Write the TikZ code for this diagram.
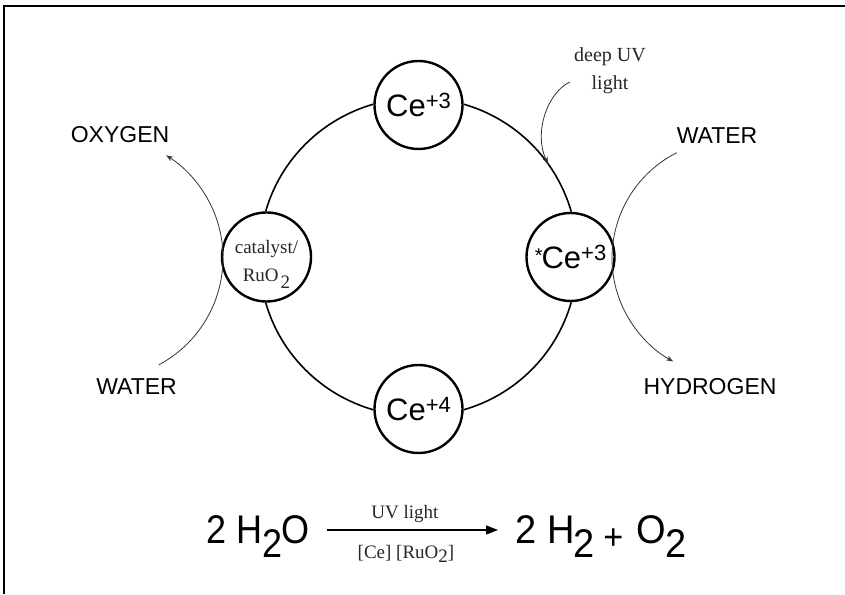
\documentclass[tikz,border=0pt]{standalone}
\usepackage{fontspec}
\setmainfont{Liberation Serif}
\setsansfont{Liberation Sans}
\usetikzlibrary{arrows.meta}
\newcommand\ionsup[1]{\raisebox{8pt}{\fontsize{22}{22}\selectfont #1}}
\newcommand\bigsub[1]{\raisebox{-14.5pt}{#1}}
\begin{document}
\begin{tikzpicture}[x=1pt,y=1pt,
  ring/.style={line width=1.6pt},
  ion/.style={circle,draw,line width=2.4pt,minimum size=88pt,inner sep=0pt,font=\sffamily\fontsize{31}{31}\selectfont},
  lbl/.style={font=\sffamily\fontsize{23}{23}\selectfont,inner sep=0pt,anchor=base},
  note/.style={font=\fontsize{19}{28}\selectfont,text=black!85,inner sep=0pt,align=center},
  eq/.style={font=\sffamily\fontsize{40}{40}\selectfont,inner sep=0pt,anchor=base},
  flow/.style={line width=0.8pt,draw=black!80,-{Stealth[length=7pt,width=5pt]}},
]
\useasboundingbox (0,0) rectangle (845,594);
\draw[line width=1.5pt] (4,0) -- (4,588) -- (845,588);

% cycle nodes
\node[ion] (top) at (418.5,489) {Ce\ionsup{+3}};
\node[ion] (right) at (570.5,337) {\raisebox{6pt}{\fontsize{20}{20}\selectfont *}\kern-1pt Ce\ionsup{+3}};
\node[ion] (bot) at (418.5,185) {Ce\ionsup{+4}};
\node[ion,font=\fontsize{19}{28}\selectfont,text=black!85,align=center] (left) at (266.5,337)
  {\rule{0pt}{28pt}catalyst/\\RuO\kern2pt\raisebox{-7pt}{2}};

% cycle arcs
\draw[ring] (top.1) to[out=-16.07,in=106.07,looseness=0.91] (right.89);
\draw[ring] (right.271) to[out=-106.07,in=16.07,looseness=0.91] (bot.359);
\draw[ring] (bot.181) to[out=163.93,in=-73.93,looseness=0.91] (left.269);
\draw[ring] (left.91) to[out=73.93,in=196.07,looseness=0.91] (top.179);

% side labels
\node[lbl] (oxy) at (120,451) {OXYGEN};
\node[lbl] (waterL) at (136.5,199) {WATER};
\node[lbl] (waterR) at (717,450) {WATER};
\node[lbl] (hyd) at (710,199) {HYDROGEN};

% side flows
\coordinate (wls) at (158.8,229.2);
\draw[flow] (wls) arc[start angle=-62,end angle=58,radius=121];
\coordinate (wrs) at (676.8,441.3);
\draw[flow] (wrs) arc[start angle=116.8,end angle=241.2,radius=118];

% deep UV light
\node[note,font=\fontsize{20}{28}\selectfont] (uv) at (610,522.8) {deep UV\\light};
\coordinate (uvs) at (570,512);
\coordinate (uvt) at (548,430);
\draw[flow,-{Stealth[length=7pt,width=5.5pt]}] (uvs) .. controls (548,502) and (533,462) .. (uvt);

% equation
\node[eq] (lhs) at (258,51) {\scalebox{0.9}[1]{2 H\kern0pt\bigsub{2}\kern-1pt O}};
\node[eq] (rhs) at (601,51) {\scalebox{0.95}[1]{2 H\kern-1pt\bigsub{2}\kern9pt\raisebox{-6pt}{\fontsize{36}{36}\selectfont +}\kern14pt O\kern-1pt\bigsub{2}}};
\coordinate (a1) at (327,64);
\coordinate (a2) at (498,64);
\draw[line width=1.3pt,-{Triangle[length=12pt,width=9pt]}] (a1) -- (a2);
\node[note,anchor=base] (uvl) at (405,76) {UV light};
\node[note,anchor=base] (cat) at (406,36) {[Ce] [RuO\raisebox{-4pt}{2}]};
\end{tikzpicture}
\end{document}
